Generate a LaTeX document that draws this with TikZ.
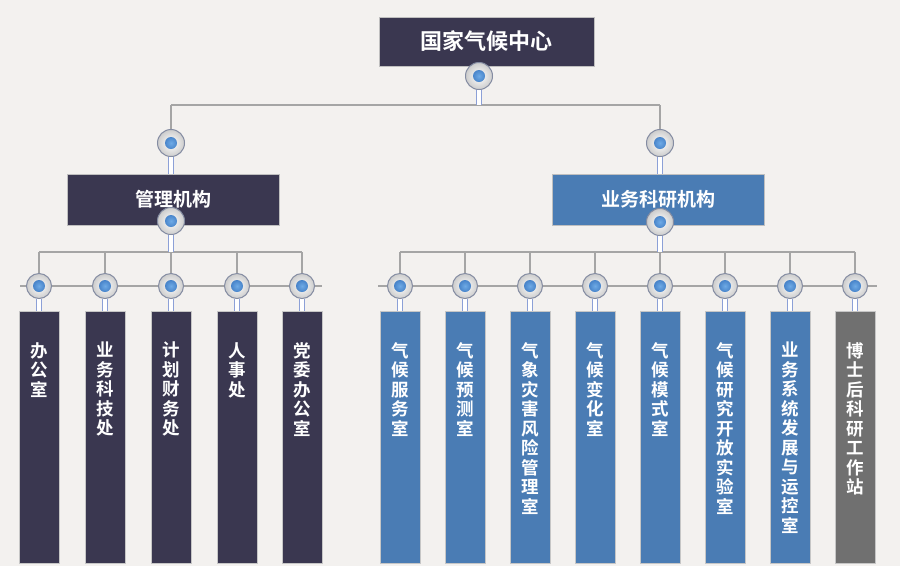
\documentclass[tikz,border=0pt]{standalone}
\usepackage{fontspec}
\setmainfont{Noto Sans CJK SC}[BoldFont={Noto Sans CJK SC Bold}]
\usetikzlibrary{shadings}
\definecolor{bgc}{RGB}{243,241,239}
\definecolor{navy}{RGB}{58,55,80}
\definecolor{steel}{RGB}{74,124,180}
\definecolor{grayb}{RGB}{112,112,112}
\definecolor{linec}{RGB}{165,165,165}
\definecolor{stemc}{RGB}{140,160,215}
\definecolor{dotin}{RGB}{110,170,230}
\definecolor{dotout}{RGB}{30,90,170}
\pgfdeclarelayer{back}
\pgfdeclarelayer{mid}
\pgfsetlayers{back,mid,main}
\tikzset{
  conn/.style={draw=linec, line width=2pt},
  stem/.style={draw=stemc, line width=0.8pt, double=white, double distance=4.4pt},
  knob/.style={circle, inner sep=0, minimum size=27, draw=gray!60!stemc, line width=1pt,
    inner color=white, outer color=gray!40,
    path picture={\shade[inner color=dotin, outer color=dotout] (path picture bounding box.center) circle (6);}},
  topbox/.style={rectangle, inner sep=0, fill=navy, draw=gray!50, line width=0.5pt,
    minimum width=215, minimum height=49, text=white, font=\bfseries\fontsize{22}{22}\selectfont},
  midbox/.style={rectangle, inner sep=0, fill=#1, draw=gray!50, line width=0.5pt,
    minimum width=212, minimum height=51, text=white, font=\bfseries\fontsize{19}{19}\selectfont},
  child/.style={rectangle, inner sep=0, fill=#1, draw=gray!45, line width=0.5pt,
    minimum width=40, minimum height=252},
  vtext/.style={anchor=north, inner sep=0, text=white, align=center,
    font=\bfseries\fontsize{17.5}{19.5}\selectfont},
}
\begin{document}
\begin{tikzpicture}[x=1pt,y=-1pt]
\begin{pgfonlayer}{back}
\fill[bgc] (0,0) rectangle (900,566);
\end{pgfonlayer}
\useasboundingbox (0,0) rectangle (900,566);

% top
\node[topbox] (n0) at (486.5,41.5) {国家气候中心};
\node[midbox=navy] (L) at (173,199.5) {管理机构};
\node[midbox=steel] (R) at (658,199.5) {业务科研机构};

% children left
\node[child=navy] (a1) at (39,437) {};
\node[child=navy] (a2) at (105,437) {};
\node[child=navy] (a3) at (171,437) {};
\node[child=navy] (a4) at (237,437) {};
\node[child=navy] (a5) at (302,437) {};
% children right
\node[child=steel] (b1) at (400,437) {};
\node[child=steel] (b2) at (465,437) {};
\node[child=steel] (b3) at (530,437) {};
\node[child=steel] (b4) at (595,437) {};
\node[child=steel] (b5) at (660,437) {};
\node[child=steel] (b6) at (725,437) {};
\node[child=steel] (b7) at (790,437) {};
\node[child=grayb] (b8) at (855,437) {};

% texts
\node[vtext] (ta1) at (39,342) {办\\公\\室};
\node[vtext] (ta2) at (105,342) {业\\务\\科\\技\\处};
\node[vtext] (ta3) at (171,342) {计\\划\\财\\务\\处};
\node[vtext] (ta4) at (237,342) {人\\事\\处};
\node[vtext] (ta5) at (302,342) {党\\委\\办\\公\\室};
\node[vtext] (tb1) at (400,342) {气\\候\\服\\务\\室};
\node[vtext] (tb2) at (465,342) {气\\候\\预\\测\\室};
\node[vtext] (tb3) at (530,342) {气\\象\\灾\\害\\风\\险\\管\\理\\室};
\node[vtext] (tb4) at (595,342) {气\\候\\变\\化\\室};
\node[vtext] (tb5) at (660,342) {气\\候\\模\\式\\室};
\node[vtext] (tb6) at (725,342) {气\\候\\研\\究\\开\\放\\实\\验\\室};
\node[vtext] (tb7) at (790,342) {业\\务\\系\\统\\发\\展\\与\\运\\控\\室};
\node[vtext] (tb8) at (855,342) {博\\士\\后\\科\\研\\工\\作\\站};

% knobs
\node[knob] (k0) at (479,76) {};
\node[knob] (kL) at (171,143) {};
\node[knob] (kR) at (660,143) {};
\node[knob] (kL2) at (171,221) {};
\node[knob] (kR2) at (660,222) {};
\foreach \n/\x in {a1/39,a2/105,a3/171,a4/237,a5/302,b1/400,b2/465,b3/530,b4/595,b5/660,b6/725,b7/790,b8/855}{
  \node[knob, minimum size=25] (k\n) at (\x,286) {};
  \coordinate (j\n) at (\x,252);
}

% junction coordinates
\coordinate (j0) at (479,105);
\coordinate (jL) at (171,105);
\coordinate (jR) at (660,105);
\coordinate (jL2) at (171,252);
\coordinate (jR2) at (660,252);
\coordinate (rLs) at (20,286);
\coordinate (rLe) at (322,286);
\coordinate (rRs) at (378,286);
\coordinate (rRe) at (877,286);

\begin{pgfonlayer}{back}
\draw[conn] (jL) -- (jR);
\draw[conn] (jL) -- (kL);
\draw[conn] (jR) -- (kR);
\draw[conn] (ja1) -- (ja5);
\draw[conn] (jb1) -- (jb8);
\draw[conn] (rLs) -- (rLe);
\draw[conn] (rRs) -- (rRe);
\foreach \n in {a1,a2,a3,a4,a5,b1,b2,b3,b4,b5,b6,b7,b8}{
  \draw[conn] (j\n) -- (k\n);
}
\end{pgfonlayer}

\begin{pgfonlayer}{mid}
\draw[stem] (k0) -- (j0);
\draw[stem] (kL) -- (kL |- L.north);
\draw[stem] (kR) -- (kR |- R.north);
\draw[stem] (kL2) -- (jL2);
\draw[stem] (kR2) -- (jR2);
\foreach \n in {a1,a2,a3,a4,a5,b1,b2,b3,b4,b5,b6,b7,b8}{
  \draw[stem] (k\n) -- (\n.north);
}
\end{pgfonlayer}
\end{tikzpicture}
\end{document}
